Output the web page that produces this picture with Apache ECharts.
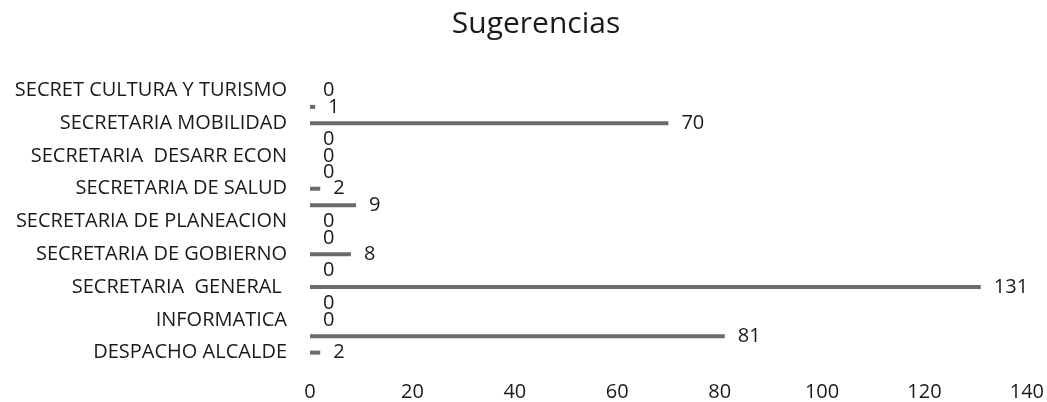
<!DOCTYPE html>
<html>
<head>
<meta charset="utf-8">
<script src="https://cdn.jsdelivr.net/npm/echarts@6/dist/echarts.min.js"></script>
<style>
html,body{margin:0;padding:0;background:#fff;}
#chart{width:1047px;height:402px;}
</style>
</head>
<body>
<div id="chart"></div>
<script>
var categories = ['DESPACHO ALCALDE', 'INFORMATICA', 'SECRETARIA  GENERAL ', 'SECRETARIA DE GOBIERNO', 'SECRETARIA DE PLANEACION', 'SECRETARIA DE SALUD', 'SECRETARIA  DESARR ECON', 'SECRETARIA MOBILIDAD', 'SECRET CULTURA Y TURISMO'];
var seriesUpper = [81, 0, 0, 0, 9, 0, 0, 1, null];
var seriesMain = [2, 0, 131, 8, 0, 2, 0, 70, 0];
var seriesEmpty = [null, null, null, null, null, null, null, null, null];
var xTicks = [0, 20, 40, 60, 80, 100, 120, 140];

var FONT = '"Open Sans", sans-serif';
var chart = echarts.init(document.getElementById('chart'));
var barStyle = { color: '#6b6b6b' };
var lbl = { show: true, position: 'right', distance: 13, fontFamily: FONT, fontSize: 20, color: '#1a1a1a' };
chart.setOption({
  animation: false,
  title: { text: 'Sugerencias', left: 531, top: 4, textAlign: 'center',
    textStyle: { fontFamily: FONT, fontSize: 30, fontWeight: 'normal', color: '#1a1a1a' } },
  grid: { left: 310, right: 20, top: 74, bottom: 33, containLabel: false },
  xAxis: { type: 'value', min: xTicks[0], max: xTicks[xTicks.length - 1], interval: 20,
    axisLine: { show: false }, axisTick: { show: false }, splitLine: { show: false },
    axisLabel: { fontFamily: FONT, fontSize: 20, color: '#1a1a1a', margin: 13 } },
  yAxis: { type: 'category', data: categories,
    axisLine: { show: false }, axisTick: { show: false },
    axisLabel: { fontFamily: FONT, fontSize: 20, color: '#1a1a1a', margin: 23 } },
  series: [
    { type: 'bar', data: seriesUpper, barWidth: 4, barGap: '307%', itemStyle: barStyle, label: lbl },
    { type: 'bar', data: seriesMain, barWidth: 4, barGap: '307%', itemStyle: barStyle, label: lbl },
    { type: 'bar', data: seriesEmpty, barWidth: 4, barGap: '307%', itemStyle: barStyle }
  ]
});
</script>
</body>
</html>
